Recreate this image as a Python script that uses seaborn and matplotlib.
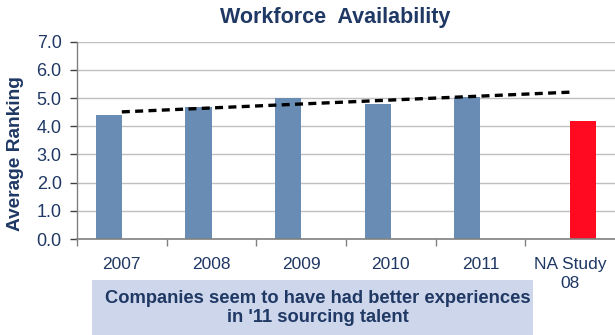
import numpy as np
import pandas as pd
import matplotlib
matplotlib.use("Agg")
import matplotlib.pyplot as plt
import seaborn as sns

# Chart data
categories = ["2007", "2008", "2009", "2010", "2011", "NA Study\n08"]
survey_years = ["2007", "2008", "2009", "2010", "2011"]
survey_values = [4.4, 4.7, 5.0, 4.8, 5.05]
benchmark_label = "NA Study\n08"
benchmark_value = 4.2
y_ticks = [0.0, 1.0, 2.0, 3.0, 4.0, 5.0, 6.0, 7.0]

NAVY = "#1F3864"
BLUE = "#688CB4"
RED = "#FF0A20"

sns.set_theme(style="white")
plt.rcParams["font.family"] = ["Liberation Sans", "DejaVu Sans"]

df = pd.DataFrame({
    "category": survey_years + [benchmark_label],
    "value": survey_values + [benchmark_value],
    "series": ["survey"] * len(survey_years) + ["benchmark"],
})

fig = plt.figure(figsize=(6.15, 3.35), dpi=100)
ax = fig.add_axes([77 / 615, 1 - 239 / 335, 538 / 615, (239 - 41.7) / 335])

sns.barplot(data=df, x="category", y="value", hue="series",
            order=categories, hue_order=["survey", "benchmark"],
            palette={"survey": BLUE, "benchmark": RED},
            dodge=True, width=0.58, saturation=1, legend=False,
            linewidth=0, ax=ax, zorder=2)

# Linear trend over the survey years, projected one period forward
xs = np.arange(len(survey_values))
slope, intercept = np.polyfit(xs, survey_values, 1)
x_trend = np.array([0, len(survey_values)])
ax.plot(x_trend, slope * x_trend + intercept, color="black", lw=2.4,
        linestyle=(0, (2.4, 1.6)), zorder=3, solid_capstyle="butt",
        dash_capstyle="butt")

ax.set_xlim(-0.5, len(categories) - 0.5)
ax.set_ylim(0, 7)
ax.set_yticks(y_ticks)
ax.set_yticklabels([f"{v:.1f}" for v in y_ticks], color=NAVY, fontsize=13)
ax.set_xticks(range(len(categories)))
ax.set_xticklabels(categories, color=NAVY, fontsize=12.5, linespacing=1.3)
ax.tick_params(axis="x", length=0, pad=13)
ax.tick_params(axis="y", length=5, width=1, color="#404040", left=True, pad=6)

# Category separator ticks along the bottom axis
ax.set_xticks(np.arange(-0.5, len(categories) - 0.5, 1.0), minor=True)
ax.tick_params(axis="x", which="minor", bottom=True, length=5, width=1,
               color="#808080", direction="out")

ax.yaxis.grid(True, color="#C0C0C0", lw=1, zorder=0)
ax.set_axisbelow(True)
for side in ["top", "right"]:
    ax.spines[side].set_visible(False)
ax.spines["left"].set_color("#808080")
ax.spines["bottom"].set_color("#808080")
ax.spines["left"].set_linewidth(1)
ax.spines["bottom"].set_linewidth(1.2)

ax.set_xlabel("")
ax.set_ylabel("")
fig.text(16 / 615, 1 - 153.5 / 335, "Average Ranking", rotation=90,
         ha="center", va="center", color=NAVY, fontsize=13.8,
         fontweight="bold")

fig.text(335 / 615, 1 - 18 / 335, "Workforce  Availability", ha="center",
         va="center", color=NAVY, fontsize=15.5, fontweight="bold")

# Caption box below the axis
fig.patches.append(matplotlib.patches.Rectangle(
    (92 / 615, 0), (533 - 92) / 615, (335 - 280) / 335,
    transform=fig.transFigure, facecolor="#CDD6EA", edgecolor="none",
    zorder=0))
fig.text(318 / 615, 1 - 308 / 335,
         "Companies seem to have had better experiences\nin '11 sourcing talent",
         ha="center", va="center", color=NAVY, fontsize=13.2,
         fontweight="bold", linespacing=1.2)

fig.savefig("out.png", dpi=100, facecolor="white")
